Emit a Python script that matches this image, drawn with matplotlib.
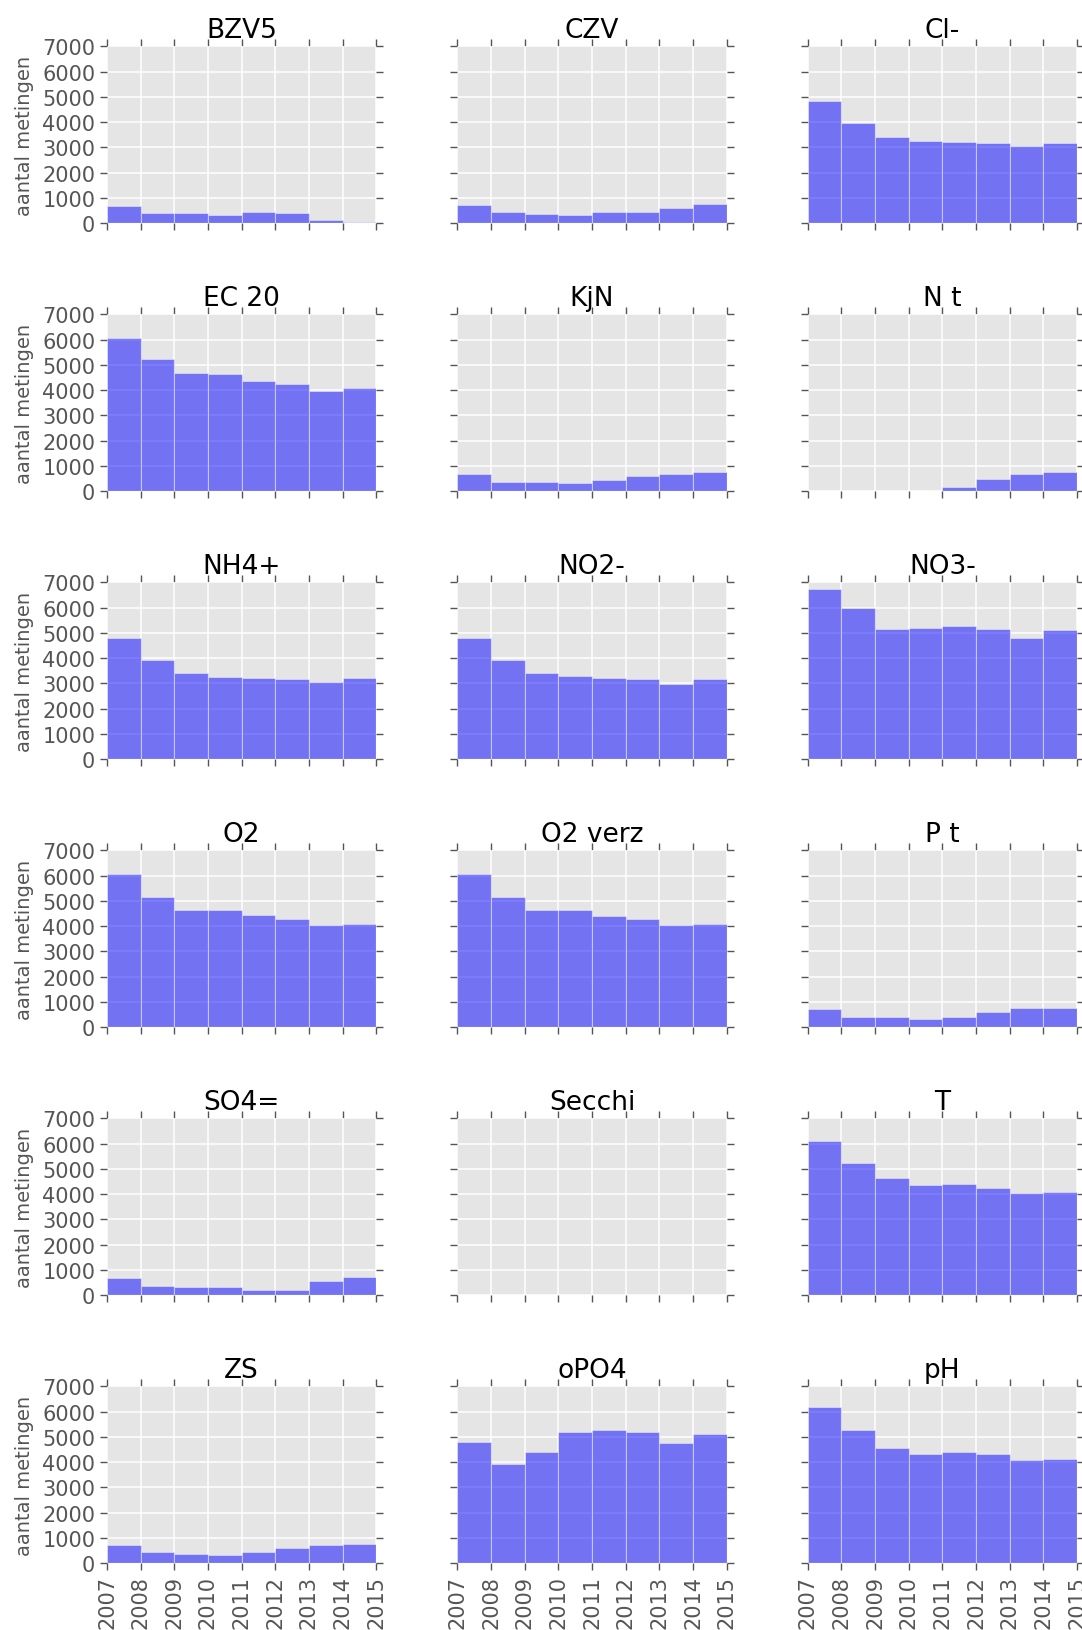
import numpy as np
import matplotlib
matplotlib.use('Agg')
import matplotlib.pyplot as plt

# jaren (binranden) en aantal metingen per parameter per jaar
jaren = [2007, 2008, 2009, 2010, 2011, 2012, 2013, 2014, 2015]
parameters = ['BZV5', 'CZV', 'Cl-', 'EC 20', 'KjN', 'N t', 'NH4+', 'NO2-', 'NO3-',
              'O2', 'O2 verz', 'P t', 'SO4=', 'Secchi', 'T', 'ZS', 'oPO4', 'pH']

bzv5 = [690, 390, 390, 320, 450, 390, 130, 70]
czv = [710, 450, 380, 320, 450, 450, 600, 760]
cl = [4820, 3960, 3430, 3260, 3210, 3160, 3050, 3160]
ec20 = [6060, 5230, 4690, 4630, 4360, 4250, 3980, 4100]
kjn = [690, 380, 380, 320, 430, 590, 690, 760]
n_t = [0, 0, 0, 0, 160, 480, 690, 760]
nh4 = [4800, 3920, 3420, 3260, 3210, 3160, 3050, 3210]
no2 = [4790, 3920, 3430, 3280, 3220, 3160, 2990, 3160]
no3 = [6750, 5970, 5160, 5210, 5260, 5170, 4790, 5110]
o2 = [6070, 5150, 4620, 4620, 4460, 4300, 4030, 4090]
o2_verz = [6070, 5150, 4620, 4620, 4420, 4300, 4030, 4090]
p_t = [730, 410, 410, 340, 420, 590, 760, 760]
so4 = [700, 350, 330, 330, 210, 210, 560, 730]
secchi = [0, 0, 12, 12, 12, 12, 12, 12]
temp = [6110, 5250, 4650, 4380, 4420, 4250, 4030, 4100]
zs = [730, 440, 380, 330, 440, 610, 710, 780]
opo4 = [4780, 3940, 4420, 5180, 5290, 5190, 4760, 5120]
ph = [6180, 5280, 4570, 4310, 4410, 4320, 4080, 4130]

aantallen = [bzv5, czv, cl, ec20, kjn, n_t, nh4, no2, no3,
             o2, o2_verz, p_t, so4, secchi, temp, zs, opo4, ph]

grijs = '#555555'

fig, axes = plt.subplots(6, 3, figsize=(10.82, 16.31), dpi=100,
                         sharex=True, sharey=True)
fig.subplots_adjust(left=0.0989, right=0.9954, top=0.971, bottom=0.0409,
                    hspace=0.514, wspace=0.301)

for ax, naam, telling in zip(axes.flat, parameters, aantallen):
    ax.set_facecolor('#E5E5E5')
    ax.set_axisbelow(True)
    ax.grid(True, color='white', linewidth=1.1)
    for sp in ax.spines.values():
        sp.set_visible(False)
    ax.hist(jaren[:-1], bins=jaren, weights=telling, color='blue', alpha=0.5,
            edgecolor='white', linewidth=0.6)
    ax.set_title(naam, fontsize=19, pad=7)
    ax.tick_params(axis='both', which='both', direction='out', length=5,
                   width=1, color=grijs, labelcolor=grijs, labelsize=15,
                   top=True, right=True)

ax0 = axes[0, 0]
ax0.set_xlim(2007, 2015)
ax0.set_ylim(0, 7000)
ax0.set_xticks(jaren)
ax0.set_yticks(range(0, 7001, 1000))

for ax in axes[:, 0]:
    ax.set_ylabel('aantal metingen', fontsize=14, color=grijs, labelpad=6)
for ax in axes[-1, :]:
    ax.set_xticklabels([str(j) for j in jaren], rotation=90)

fig.savefig('out.png', dpi=100)
